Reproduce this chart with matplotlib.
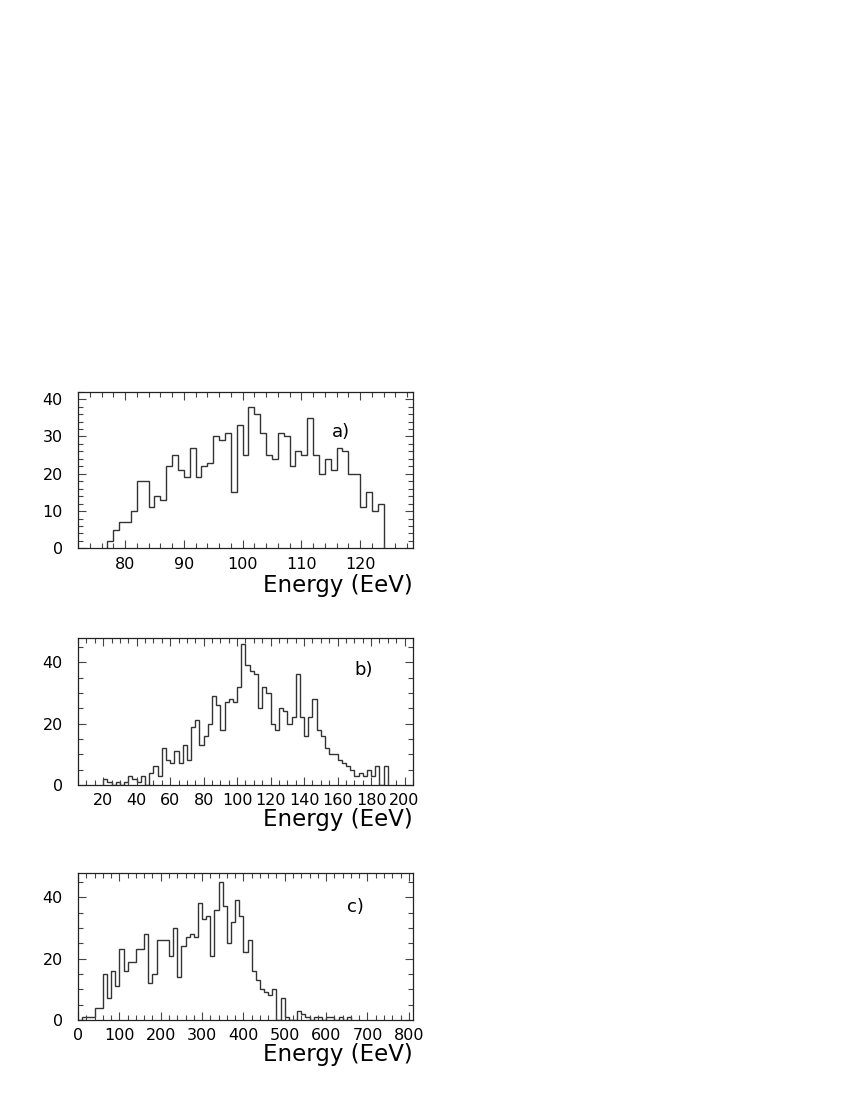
import numpy as np
import matplotlib
matplotlib.use("Agg")
import matplotlib.pyplot as plt
from matplotlib.ticker import MultipleLocator

plt.rcParams['font.family'] = ['DejaVu Sans']

# panel a) : 1 EeV bins starting at 77 EeV
a_start, a_width = 77, 1
a_counts = [2, 5, 7, 7, 10, 18, 18, 11, 14, 13, 22, 25, 21, 19, 27, 19, 22, 23,
            30, 29, 31, 15, 33, 25, 38, 36, 31, 25, 24, 31, 30, 22, 26, 25, 35,
            25, 20, 24, 21, 27, 26, 20, 20, 11, 15, 10, 12]

# panel b) : 2.5 EeV bins starting at 20 EeV
b_start, b_width = 20, 2.5
b_counts = [2, 1, 0, 1, 0, 1, 3, 2, 1, 3, 0, 4, 6, 3, 12, 8, 7, 11, 7, 13, 8,
            19, 21, 13, 16, 20, 29, 26, 18, 27, 28, 27, 32, 46, 39, 37, 36, 25,
            32, 30, 20, 18, 25, 24, 20, 22, 36, 22, 16, 22, 28, 18, 16, 12, 10,
            10, 8, 7, 6, 5, 3, 4, 3, 5, 3, 6, 0, 6]

# panel c) : 10 EeV bins starting at 0 EeV
c_start, c_width = 0, 10
c_counts = [0, 1, 1, 1, 4, 4, 15, 7, 16, 11, 23, 16, 19, 19, 23, 23, 28, 12,
            15, 26, 26, 26, 21, 30, 14, 24, 27, 28, 27, 38, 33, 34, 21, 36, 45,
            37, 25, 32, 39, 34, 22, 26, 16, 13, 10, 9, 8, 10, 0, 7, 1, 0, 0, 3,
            2, 1, 0, 1, 1, 0, 1, 1, 0, 1, 0, 1]

panels = [
    dict(start=a_start, width=a_width, counts=a_counts, xlim=(72, 129), ylim=(0, 42),
         xmaj=10, xmin=2, ymaj=10, ymin=2, tag='a)', tagpos=(0.785, 0.74),
         rect=[0.0918, 0.5015, 0.394, 0.1424]),
    dict(start=b_start, width=b_width, counts=b_counts, xlim=(5, 205), ylim=(0, 48),
         xmaj=20, xmin=5, ymaj=20, ymin=5, tag='b)', tagpos=(0.852, 0.78),
         rect=[0.0918, 0.2865, 0.394, 0.1338]),
    dict(start=c_start, width=c_width, counts=c_counts, xlim=(0, 810), ylim=(0, 48),
         xmaj=100, xmin=20, ymaj=20, ymin=5, tag='c)', tagpos=(0.828, 0.77),
         rect=[0.0918, 0.0728, 0.394, 0.1338]),
]

fig = plt.figure(figsize=(8.5, 11), dpi=100)

for p in panels:
    ax = fig.add_axes(p['rect'])
    counts = np.array(p['counts'])
    edges = p['start'] + p['width'] * np.arange(len(counts) + 1)
    ax.stairs(counts, edges, color='#333333', linewidth=1.0)
    ax.set_xlim(*p['xlim'])
    ax.set_ylim(*p['ylim'])
    ax.xaxis.set_major_locator(MultipleLocator(p['xmaj']))
    ax.xaxis.set_minor_locator(MultipleLocator(p['xmin']))
    ax.yaxis.set_major_locator(MultipleLocator(p['ymaj']))
    ax.yaxis.set_minor_locator(MultipleLocator(p['ymin']))
    ax.tick_params(which='both', direction='in', top=True, right=True,
                   color='#444444', width=0.8, labelsize=11.5)
    ax.tick_params(which='major', length=6)
    ax.tick_params(which='minor', length=3.5)
    ax.tick_params(axis='y', pad=11)
    ax.tick_params(axis='x', pad=6)
    for s in ax.spines.values():
        s.set_linewidth(0.9)
        s.set_color('#222222')
    ax.text(p['tagpos'][0], p['tagpos'][1], p['tag'], transform=ax.transAxes,
            fontsize=13, ha='center', va='center')
    ax.text(1.0, -0.235, 'Energy (EeV)', transform=ax.transAxes,
            fontsize=16.5, ha='right', va='center')

fig.savefig('out.png', dpi=100)
